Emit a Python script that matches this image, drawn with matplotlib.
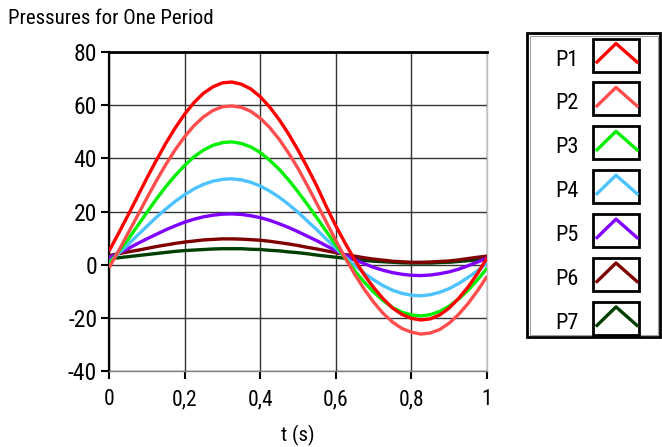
import matplotlib
matplotlib.use("Agg")
import matplotlib.pyplot as plt
from matplotlib.patches import Rectangle
from matplotlib.lines import Line2D

plt.rcParams['font.family'] = ['Roboto Condensed', 'Roboto', 'DejaVu Sans']

# time axis (s)
t = [i * 0.025 for i in range(41)]

P1 = [5.1, 11.7, 18.5, 25.5, 32.5, 39.2, 45.6, 51.4, 56.6, 61.0, 64.5, 66.9, 68.4, 68.7, 67.9, 66.1,
      63.2, 59.3, 54.6, 49.2, 43.1, 36.5, 29.5, 21.8, 14.6, 8.0, 1.8, -3.8, -8.6, -12.8, -16.3, -18.7,
      -20.2, -20.8, -20.4, -18.9, -16.3, -12.7, -8.4, -3.3, 2.5]
P2 = [-1.2, 5.1, 11.7, 18.3, 25.0, 31.5, 37.6, 43.2, 48.1, 52.3, 55.6, 58.0, 59.4, 59.7, 59.2, 57.7,
      55.1, 51.6, 47.2, 42.0, 36.2, 29.7, 22.9, 16.0, 9.1, 2.5, -3.6, -9.2, -14.1, -18.3, -21.6, -24.0,
      -25.4, -26.1, -25.7, -24.4, -22.0, -18.7, -14.6, -9.8, -4.4]
P3 = [0.2, 4.8, 9.4, 14.5, 19.6, 24.6, 29.3, 33.5, 37.3, 40.6, 43.1, 44.9, 45.9, 46.2, 45.6, 44.3,
      42.2, 39.3, 35.9, 31.9, 27.4, 22.6, 17.6, 12.5, 7.4, 2.4, -2.3, -6.5, -10.3, -13.5, -16.1, -17.9,
      -18.9, -19.3, -18.8, -17.6, -15.6, -12.9, -9.6, -5.7, -1.3]
P4 = [0.9, 4.2, 7.5, 11.0, 14.4, 17.8, 20.9, 23.8, 26.3, 28.5, 30.2, 31.4, 32.1, 32.3, 31.9, 31.0,
      29.6, 27.7, 25.4, 22.7, 19.7, 16.4, 13.1, 9.6, 6.2, 2.9, -0.3, -3.2, -5.7, -7.9, -9.6, -10.8,
      -11.5, -11.7, -11.3, -10.4, -9.0, -7.1, -4.8, -2.3, 0.6]
P5 = [2.6, 4.3, 6.0, 7.9, 9.7, 11.4, 13.1, 14.6, 16.0, 17.1, 18.0, 18.6, 19.0, 19.1, 18.9, 18.4,
      17.7, 16.7, 15.4, 14.0, 12.4, 10.7, 9.0, 7.1, 5.3, 3.6, 1.9, 0.4, -1.0, -2.1, -3.0, -3.6,
      -4.0, -4.1, -3.9, -3.4, -2.7, -1.7, -0.4, 1.0, 2.4]
P6 = [3.4, 4.1, 4.8, 5.4, 6.1, 6.8, 7.4, 8.0, 8.5, 8.9, 9.3, 9.5, 9.7, 9.7, 9.6, 9.4,
      9.2, 8.8, 8.3, 7.8, 7.2, 6.5, 5.9, 5.2, 4.5, 3.8, 3.2, 2.6, 2.1, 1.7, 1.3, 1.1,
      0.9, 0.9, 1.0, 1.2, 1.4, 1.8, 2.3, 2.8, 3.2]
P7 = [2.2, 2.6, 3.0, 3.4, 3.8, 4.2, 4.6, 5.0, 5.3, 5.5, 5.7, 5.9, 6.0, 6.0, 6.0, 5.8,
      5.7, 5.4, 5.2, 4.8, 4.5, 4.1, 3.6, 3.2, 2.8, 2.4, 2.0, 1.6, 1.3, 1.1, 0.9, 0.7,
      0.6, 0.6, 0.6, 0.8, 0.9, 1.2, 1.5, 1.8, 2.2]

series_names = ['P1', 'P2', 'P3', 'P4', 'P5', 'P6', 'P7']
series_values = [P1, P2, P3, P4, P5, P6, P7]
colors = ['#ff0000', '#ff4d4d', '#00f000', '#4cc3ff', '#8000ff', '#800000', '#003f00']

x_ticks = [0, 0.2, 0.4, 0.6, 0.8, 1.0]
x_tick_labels = ['0', '0,2', '0,4', '0,6', '0,8', '1']
y_ticks = [-40, -20, 0, 20, 40, 60, 80]
y_tick_labels = ['-40', '-20', '0', '20', '40', '60', '80']

W, H = 662, 447
fig = plt.figure(figsize=(W / 100, H / 100), dpi=100)
ax = fig.add_axes([109 / W, 76 / H, 378 / W, 319 / H])

n = len(series_values)
for i, (name, vals, c) in enumerate(zip(series_names, series_values, colors)):
    ax.plot(t, vals, color=c, lw=2.4, zorder=10 + n - i, solid_capstyle='butt')

ax.set_xlim(0, 1)
ax.set_ylim(-40, 80)
ax.set_xticks(x_ticks)
ax.set_xticklabels(x_tick_labels)
ax.set_yticks(y_ticks)
ax.set_yticklabels(y_tick_labels)
ax.grid(True, color='#333333', lw=1.0, zorder=1)
ax.set_axisbelow(True)
ax.tick_params(axis='both', direction='out', color='black')
ax.tick_params(axis='y', length=6, width=1.5, pad=2.5, labelsize=17)
ax.tick_params(axis='x', length=6, width=1.5, pad=7, labelsize=15.5)

ax.spines['left'].set_color('black')
ax.spines['left'].set_linewidth(1.6)
ax.spines['top'].set_color('black')
ax.spines['top'].set_linewidth(2.0)
ax.spines['right'].set_color('#c0c0c0')
ax.spines['right'].set_linewidth(1.0)
ax.spines['bottom'].set_color('#808080')
ax.spines['bottom'].set_linewidth(1.0)

fig.text(8 / W, 1 - 24 / H, 'Pressures for One Period', ha='left', va='baseline', fontsize=15)
fig.text(298 / W, 1 - 441 / H, 't (s)', ha='center', va='baseline', fontsize=15)

# legend drawn in pixel coordinates
lax = fig.add_axes([0, 0, 1, 1], facecolor='none')
lax.set_xlim(0, W)
lax.set_ylim(H, 0)
lax.axis('off')
lax.add_patch(Rectangle((527, 33), 133, 304, fill=False, ec='black', lw=2.0))
lax.add_patch(Rectangle((529.5, 35.5), 128, 299, fill=False, ec='#a0a0a0', lw=0.8))
for i, (name, c) in enumerate(zip(series_names, colors)):
    top = 38.5 + i * 43.9
    lax.add_patch(Rectangle((593, top), 46, 33, fill=False, ec='black', lw=2.0))
    lax.text(555, top + 27, name, ha='left', va='baseline', fontsize=16)
    lax.add_line(Line2D([597, 616, 637], [top + 23.5, top + 5, top + 23.5], color=c, lw=2.4))

fig.savefig('out.png', dpi=100)
